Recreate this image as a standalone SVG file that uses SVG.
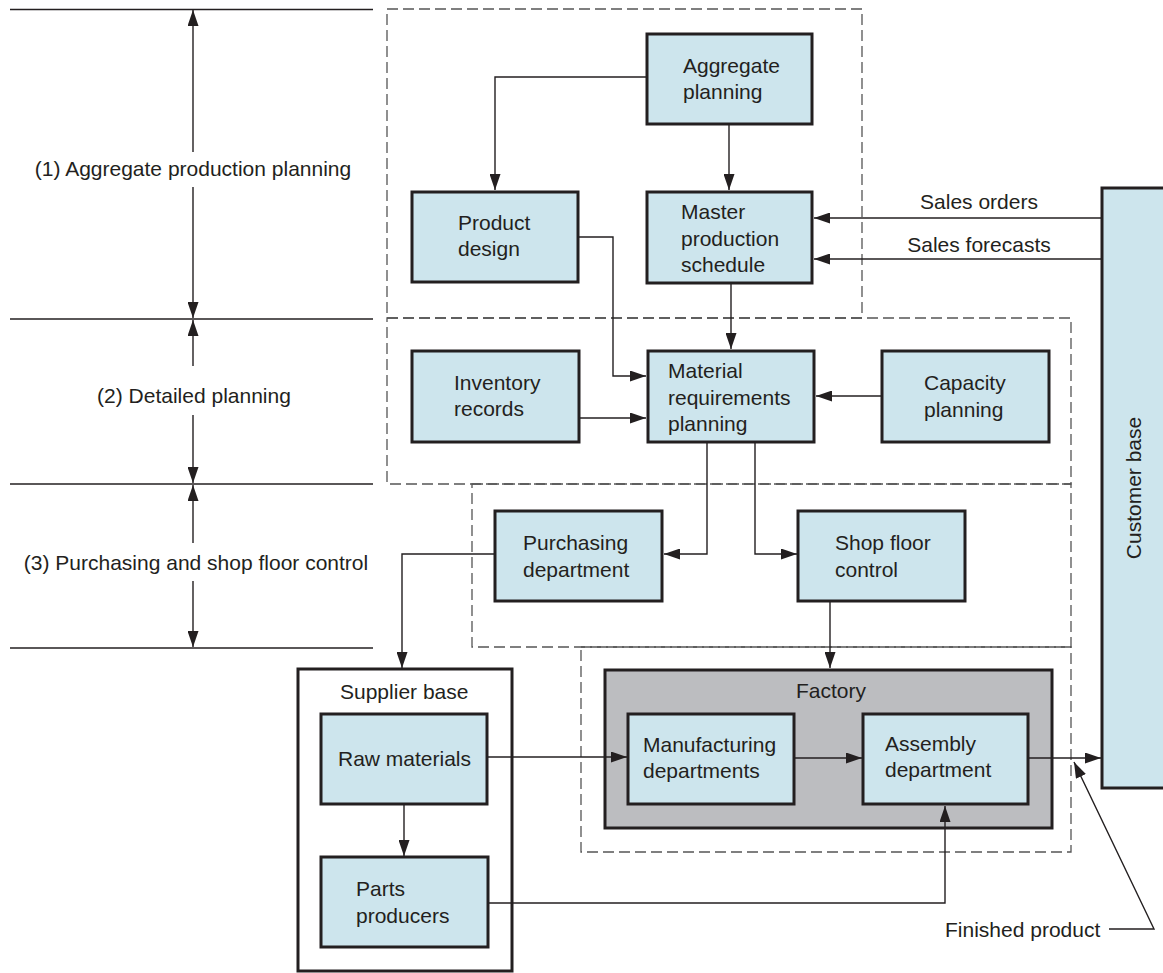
<svg xmlns="http://www.w3.org/2000/svg" width="1163" height="973" viewBox="0 0 1163 973">
<style>
text{font-family:"Liberation Sans",Arial,sans-serif;font-size:21px;fill:#231f20}
.node{fill:#cde5ed;stroke:#231f20;stroke-width:3}
.dash{fill:none;stroke:#555;stroke-width:1.3;stroke-dasharray:11 5}
.conn{fill:none;stroke:#231f20;stroke-width:1.4}
.rule{fill:none;stroke:#231f20;stroke-width:1.3}
</style>
<defs>
<marker id="ah" markerUnits="userSpaceOnUse" markerWidth="16" markerHeight="11" refX="16" refY="5.5" orient="auto">
<path d="M0,0 L16,5.5 L0,11 z" fill="#231f20"/>
</marker>
</defs>
<rect width="1163" height="973" fill="#fff"/>

<g id="levels">
<line class="rule" x1="10" y1="9.5" x2="373" y2="9.5"/>
<line class="rule" x1="10" y1="319" x2="373" y2="319"/>
<line class="rule" x1="10" y1="484" x2="373" y2="484"/>
<line class="rule" x1="10" y1="648" x2="373" y2="648"/>
<path class="conn" marker-end="url(#ah)" d="M193,152 V10"/>
<path class="conn" marker-end="url(#ah)" d="M193,187 V318"/>
<path class="conn" marker-end="url(#ah)" d="M193,366 V320"/>
<path class="conn" marker-end="url(#ah)" d="M193,415 V483"/>
<path class="conn" marker-end="url(#ah)" d="M193,543 V485"/>
<path class="conn" marker-end="url(#ah)" d="M193,581 V647"/>
<text x="193" y="176" text-anchor="middle">(1) Aggregate production planning</text>
<text x="194" y="403" text-anchor="middle">(2) Detailed planning</text>
<text x="196" y="570" text-anchor="middle">(3) Purchasing and shop floor control</text>
</g>

<g id="zones">
<rect class="dash" x="387" y="9" width="475" height="309"/>
<rect class="dash" x="387" y="318" width="684" height="166"/>
<rect class="dash" x="472" y="484" width="599" height="163"/>
<rect class="dash" x="581" y="647" width="490" height="205"/>
</g>

<g id="customer-base">
<rect class="node" x="1102" y="188" width="70" height="600"/>
<text transform="translate(1134,488) rotate(-90)" text-anchor="middle" dy="0.35em">Customer base</text>
</g>

<g id="supplier-base">
<rect x="298" y="669" width="214" height="302" fill="#fff" stroke="#231f20" stroke-width="3"/>
<text x="340" y="699">Supplier base</text>
</g>

<g id="factory">
<rect x="605" y="670" width="447" height="158" fill="#bcbdc0" stroke="#231f20" stroke-width="3"/>
<text x="796" y="698">Factory</text>
</g>

<g id="aggregate-planning">
<rect class="node" x="647" y="34" width="165" height="90"/>
<text x="683" y="73">Aggregate</text>
<text x="683" y="99">planning</text>
</g>

<g id="product-design">
<rect class="node" x="412" y="192" width="166" height="90"/>
<text x="458" y="230">Product</text>
<text x="458" y="256">design</text>
</g>

<g id="master-production-schedule">
<rect class="node" x="647" y="192" width="165" height="91"/>
<text x="681" y="219">Master</text>
<text x="681" y="246">production</text>
<text x="681" y="272">schedule</text>
</g>

<g id="inventory-records">
<rect class="node" x="412" y="351" width="167" height="91"/>
<text x="454" y="390">Inventory</text>
<text x="454" y="416">records</text>
</g>

<g id="mrp">
<rect class="node" x="648" y="351" width="166" height="91"/>
<text x="668" y="378">Material</text>
<text x="668" y="405">requirements</text>
<text x="668" y="431">planning</text>
</g>

<g id="capacity-planning">
<rect class="node" x="882" y="351" width="167" height="91"/>
<text x="924" y="390">Capacity</text>
<text x="924" y="417">planning</text>
</g>

<g id="purchasing-department">
<rect class="node" x="495" y="511" width="167" height="90"/>
<text x="523" y="550">Purchasing</text>
<text x="523" y="577">department</text>
</g>

<g id="shop-floor-control">
<rect class="node" x="798" y="511" width="167" height="90"/>
<text x="835" y="550">Shop floor</text>
<text x="835" y="577">control</text>
</g>

<g id="raw-materials">
<rect class="node" x="321" y="714" width="166" height="90"/>
<text x="338" y="766">Raw materials</text>
</g>

<g id="parts-producers">
<rect class="node" x="321" y="857" width="167" height="90"/>
<text x="356" y="896">Parts</text>
<text x="356" y="923">producers</text>
</g>

<g id="manufacturing-departments">
<rect class="node" x="628" y="714" width="166" height="90"/>
<text x="643" y="752">Manufacturing</text>
<text x="643" y="778">departments</text>
</g>

<g id="assembly-department">
<rect class="node" x="863" y="714" width="165" height="90"/>
<text x="885" y="751">Assembly</text>
<text x="885" y="777">department</text>
</g>

<g id="connectors">
<path class="conn" marker-end="url(#ah)" d="M646,77 H495 V190"/>
<path class="conn" marker-end="url(#ah)" d="M729,125 V190"/>
<path class="conn" marker-end="url(#ah)" d="M579,237 H613 V376 H646"/>
<path class="conn" marker-end="url(#ah)" d="M731,284 V349"/>
<path class="conn" marker-end="url(#ah)" d="M580,418 H646"/>
<path class="conn" marker-end="url(#ah)" d="M881,396 H816"/>
<path class="conn" marker-end="url(#ah)" d="M707,443 V554 H664"/>
<path class="conn" marker-end="url(#ah)" d="M755,443 V554 H797"/>
<path class="conn" marker-end="url(#ah)" d="M494,554 H402 V668"/>
<path class="conn" marker-end="url(#ah)" d="M830,602 V668"/>
<path class="conn" marker-end="url(#ah)" d="M488,757 H627"/>
<path class="conn" marker-end="url(#ah)" d="M404,805 V856"/>
<path class="conn" marker-end="url(#ah)" d="M795,758 H862"/>
<path class="conn" marker-end="url(#ah)" d="M489,903 H945 V806"/>
<path class="conn" marker-end="url(#ah)" d="M1029,758 H1101"/>
<path class="conn" marker-end="url(#ah)" d="M1101,218 H814"/>
<path class="conn" marker-end="url(#ah)" d="M1101,259 H814"/>
<path class="conn" stroke-width="1.1" marker-end="url(#ah)" d="M1109,929 H1154 L1074,762"/>
<text x="979" y="209" text-anchor="middle">Sales orders</text>
<text x="979" y="252" text-anchor="middle">Sales forecasts</text>
<text x="945" y="937">Finished product</text>
</g>
</svg>
